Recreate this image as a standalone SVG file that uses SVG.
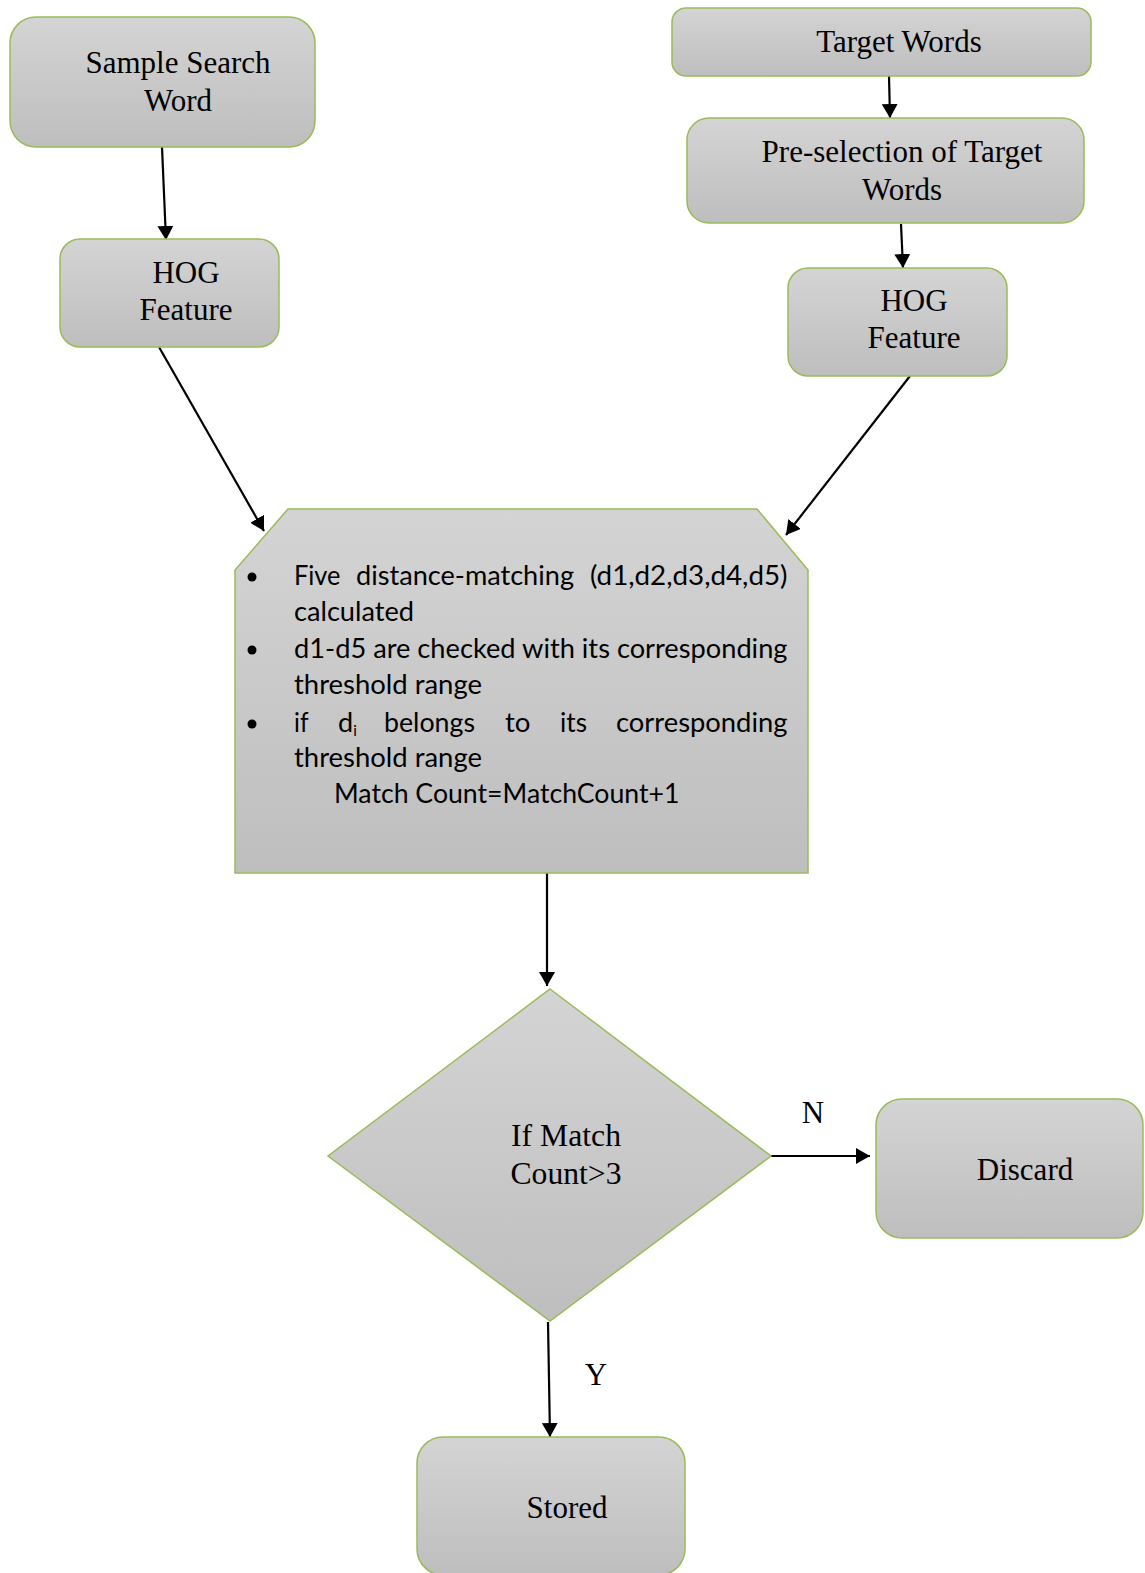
<svg xmlns="http://www.w3.org/2000/svg" width="1145" height="1573" viewBox="0 0 1145 1573">
<style>
.box{fill:url(#g);stroke:#9bbb59;stroke-width:1.5}
.t{font-family:"Liberation Serif","Times New Roman",serif;font-size:31px;fill:#000;text-anchor:middle}
.c{font-family:Lato,"Open Sans",sans-serif;font-size:27px;fill:#000}
.e{stroke:#000;stroke-width:2.2;fill:none;marker-end:url(#ah)}
</style>
<defs>
<linearGradient id="g" x1="0" y1="0" x2="0" y2="1">
<stop offset="0" stop-color="#d4d4d4"/>
<stop offset="1" stop-color="#bebebe"/>
</linearGradient>
<marker id="ah" markerUnits="userSpaceOnUse" markerWidth="16" markerHeight="16" refX="14" refY="8" orient="auto">
<path d="M0,0 L14,8 L0,16 z" fill="#000"/>
</marker>
</defs>
<rect width="1145" height="1573" fill="#fff"/>
<g id="connectors">
<line class="e" x1="162" y1="147" x2="166" y2="240"/>
<line class="e" x1="889" y1="76" x2="890" y2="118"/>
<line class="e" x1="901" y1="224" x2="903" y2="268"/>
<line class="e" x1="159" y1="347" x2="264" y2="531"/>
<line class="e" x1="910" y1="376" x2="786" y2="535"/>
<line class="e" x1="547" y1="873" x2="547" y2="986"/>
<line class="e" x1="771" y1="1156" x2="870" y2="1156"/>
<line class="e" x1="548" y1="1322" x2="550" y2="1437"/>
</g>
<g id="sample">
<rect class="box" x="10" y="17" width="305" height="130" rx="26"/>
<text class="t" x="178" y="73">Sample Search</text>
<text class="t" x="178" y="111">Word</text>
</g>
<g id="hog1">
<rect class="box" x="60" y="239" width="219" height="108" rx="20"/>
<text class="t" x="186" y="283">HOG</text>
<text class="t" x="186" y="320">Feature</text>
</g>
<g id="target">
<rect class="box" x="672" y="8" width="419" height="68" rx="14"/>
<text class="t" x="899" y="52">Target Words</text>
</g>
<g id="preselection">
<rect class="box" x="687" y="118" width="397" height="105" rx="22"/>
<text class="t" x="902" y="162">Pre-selection of Target</text>
<text class="t" x="902" y="200">Words</text>
</g>
<g id="hog2">
<rect class="box" x="788" y="268" width="219" height="108" rx="20"/>
<text class="t" x="914" y="311">HOG</text>
<text class="t" x="914" y="348">Feature</text>
</g>
<g id="matching">
<path class="box" d="M288,509 L757,509 L808,570 L808,873 L235,873 L235,570 Z"/>
<circle cx="252" cy="577" r="4.5"/>
<circle cx="252" cy="650" r="4.5"/>
<circle cx="252" cy="724" r="4.5"/>
<text class="c" x="294" y="585" textLength="46.5" lengthAdjust="spacingAndGlyphs">Five</text>
<text class="c" x="356" y="585" textLength="218" lengthAdjust="spacingAndGlyphs">distance-matching</text>
<text class="c" x="590" y="585" textLength="197.5" lengthAdjust="spacingAndGlyphs">(d1,d2,d3,d4,d5)</text>
<text class="c" x="294" y="621" textLength="120" lengthAdjust="spacingAndGlyphs">calculated</text>
<text class="c" x="294" y="658" textLength="493.5" lengthAdjust="spacingAndGlyphs">d1-d5 are checked with its corresponding</text>
<text class="c" x="294" y="694" textLength="188" lengthAdjust="spacingAndGlyphs">threshold range</text>
<text class="c" x="294" y="732" textLength="14.5" lengthAdjust="spacingAndGlyphs">if</text>
<text class="c" x="338" y="732">d<tspan font-size="15" dy="4">i</tspan></text>
<text class="c" x="384" y="732" textLength="91" lengthAdjust="spacingAndGlyphs">belongs</text>
<text class="c" x="505" y="732" textLength="25.5" lengthAdjust="spacingAndGlyphs">to</text>
<text class="c" x="560" y="732" textLength="27" lengthAdjust="spacingAndGlyphs">its</text>
<text class="c" x="616" y="732" textLength="171.5" lengthAdjust="spacingAndGlyphs">corresponding</text>
<text class="c" x="294" y="767" textLength="188" lengthAdjust="spacingAndGlyphs">threshold range</text>
<text class="c" x="334" y="803" textLength="345.5" lengthAdjust="spacingAndGlyphs">Match Count=MatchCount+1</text>
</g>
<g id="decision">
<path class="box" d="M550,989 L771,1156 L550,1321 L328,1156 Z"/>
<text class="t" x="566" y="1146" textLength="110" lengthAdjust="spacingAndGlyphs">If Match</text>
<text class="t" x="566" y="1184" textLength="111" lengthAdjust="spacingAndGlyphs">Count&gt;3</text>
</g>
<g id="labels">
<text class="t" x="813" y="1123" font-size="29">N</text>
<text class="t" x="596" y="1385" font-size="29">Y</text>
</g>
<g id="discard">
<rect class="box" x="876" y="1099" width="267" height="139" rx="26"/>
<text class="t" x="1025" y="1180">Discard</text>
</g>
<g id="stored">
<rect class="box" x="417" y="1437" width="268" height="138" rx="26"/>
<text class="t" x="567" y="1518">Stored</text>
</g>
</svg>
